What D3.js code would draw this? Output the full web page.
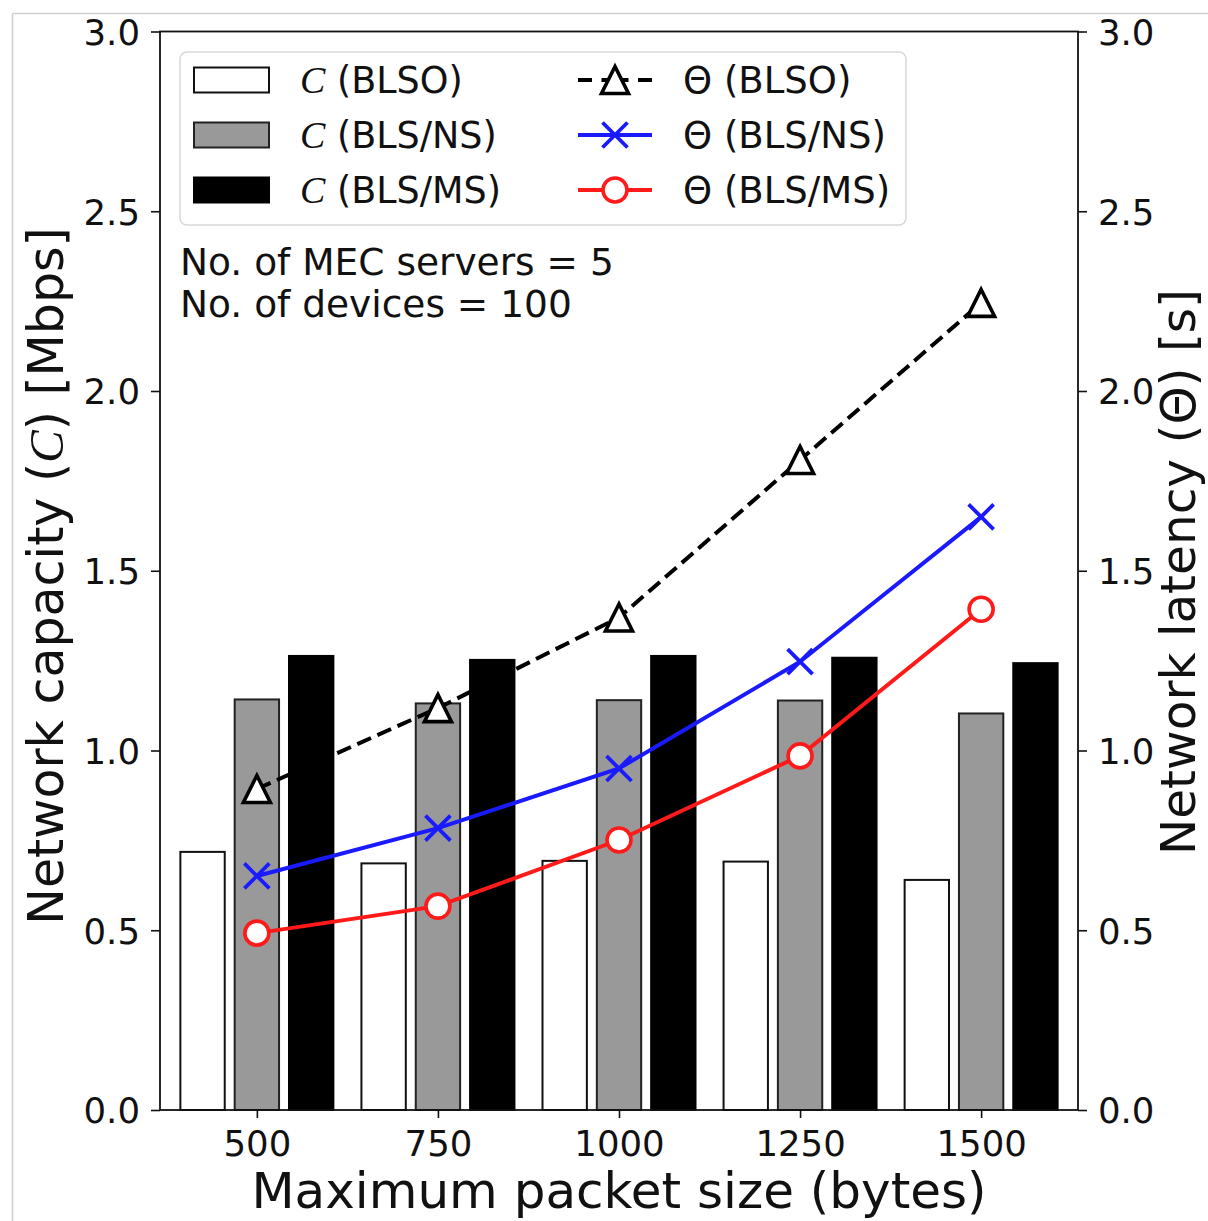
<!DOCTYPE html>
<html>
<head>
<meta charset="utf-8">
<script src="https://cdn.jsdelivr.net/npm/d3@7"></script>
<style>
  html, body { margin: 0; padding: 0; background: #ffffff; }
  svg { display: block; }
  text { font-family: "DejaVu Sans", sans-serif; fill: #111; }
</style>
</head>
<body>
<svg id="chart" width="1208" height="1221"></svg>
<script>
// Packet sizes on the x axis
const packetSizes = [500, 750, 1000, 1250, 1500];

// Network capacity C [Mbps] per scheme (bars, left axis)
const capBLSO  = [0.718, 0.686, 0.693, 0.691, 0.640];
const capBLSNS = [1.142, 1.131, 1.140, 1.139, 1.103];
const capBLSMS = [1.263, 1.252, 1.263, 1.258, 1.243];

// Network latency Θ [s] per scheme (lines, right axis)
const latBLSO  = [0.893, 1.118, 1.370, 1.808, 2.245];
const latBLSNS = [0.651, 0.784, 0.950, 1.247, 1.650];
const latBLSMS = [0.492, 0.567, 0.751, 0.985, 1.393];

// Shared tick values for both y axes
const yTicks = [0, 0.5, 1.0, 1.5, 2.0, 2.5, 3.0];

const barSeries = [
  { name: "(BLSO)",   values: capBLSO,  fill: "#ffffff", stroke: "#111", offset: -1 },
  { name: "(BLS/NS)", values: capBLSNS, fill: "#999999", stroke: "#222", offset: 0 },
  { name: "(BLS/MS)", values: capBLSMS, fill: "#000000", stroke: "#000", offset: 1 }
];
const lineSeries = [
  { name: "(BLSO)",   values: latBLSO,  color: "#000000", marker: "triangle", dash: "15,7" },
  { name: "(BLS/NS)", values: latBLSNS, color: "#1a1aff", marker: "cross",    dash: null },
  { name: "(BLS/MS)", values: latBLSMS, color: "#ff1a1a", marker: "circle",   dash: null }
];

const svg = d3.select("#chart");
const L = 160, R = 1078, T = 31.5, B = 1110;

// thin frame lines around the figure canvas
svg.append("line").attr("x1", 12.5).attr("x2", 1208).attr("y1", 13.5).attr("y2", 13.5)
  .attr("stroke", "#cfcfcf").attr("stroke-width", 1.5);
svg.append("line").attr("x1", 12.5).attr("x2", 12.5).attr("y1", 13.5).attr("y2", 1221)
  .attr("stroke", "#cfcfcf").attr("stroke-width", 1.5);

const x = d3.scalePoint().domain(packetSizes).range([L, R]).padding(0.535);
const step = x.step();
const yL = d3.scaleLinear().domain([0, 3]).range([B, T]);
const yR = d3.scaleLinear().domain([0, 3]).range([B, T]);

const barW = step * 0.245;
const barOff = step * 0.3;

// bars
barSeries.forEach(s => {
  svg.append("g").selectAll("rect").data(s.values).join("rect")
    .attr("x", (d, i) => x(packetSizes[i]) + s.offset * barOff - barW / 2)
    .attr("y", d => yL(d))
    .attr("width", barW)
    .attr("height", d => yL(0) - yL(d))
    .attr("fill", s.fill)
    .attr("stroke", s.stroke)
    .attr("stroke-width", 2);
});

// marker drawing helper
function drawMarker(g, type, color, cx, cy) {
  if (type === "triangle") {
    const h = 13.5;
    g.append("path")
      .attr("d", `M${cx},${cy - h}L${cx - h},${cy + h}L${cx + h},${cy + h}Z`)
      .attr("fill", "#fff").attr("stroke", color).attr("stroke-width", 3.6)
      .attr("stroke-linejoin", "miter");
  } else if (type === "cross") {
    const h = 12.5;
    g.append("path")
      .attr("d", `M${cx - h},${cy - h}L${cx + h},${cy + h}M${cx - h},${cy + h}L${cx + h},${cy - h}`)
      .attr("stroke", color).attr("stroke-width", 3.8).attr("fill", "none");
  } else {
    g.append("circle").attr("cx", cx).attr("cy", cy).attr("r", 12)
      .attr("fill", "#fff").attr("stroke", color).attr("stroke-width", 3.6);
  }
}

// latency lines
const line = d3.line().x((d, i) => x(packetSizes[i])).y(d => yR(d));
lineSeries.forEach(s => {
  const g = svg.append("g");
  g.append("path").datum(s.values)
    .attr("d", line)
    .attr("fill", "none")
    .attr("stroke", s.color)
    .attr("stroke-width", 4)
    .attr("stroke-dasharray", s.dash);
  s.values.forEach((v, i) => drawMarker(g, s.marker, s.color, x(packetSizes[i]), yR(v)));
});

// frame (spines)
svg.append("rect").attr("x", L).attr("y", T).attr("width", R - L).attr("height", B - T)
  .attr("fill", "none").attr("stroke", "#111").attr("stroke-width", 1.8);

// axes
const fmt = d3.format(".1f");
const axL = svg.append("g").attr("transform", `translate(${L},0)`)
  .call(d3.axisLeft(yL).tickValues(yTicks).tickFormat(fmt).tickSize(9).tickPadding(11).tickSizeOuter(0));
const axR = svg.append("g").attr("transform", `translate(${R},0)`)
  .call(d3.axisRight(yR).tickValues(yTicks).tickFormat(fmt).tickSize(9).tickPadding(11).tickSizeOuter(0));
const axB = svg.append("g").attr("transform", `translate(0,${B})`)
  .call(d3.axisBottom(x).tickSize(8).tickPadding(10).tickSizeOuter(0));
[axL, axR, axB].forEach(a => {
  a.select(".domain").remove();
  a.selectAll(".tick line").attr("stroke", "#111").attr("stroke-width", 1.6);
  a.selectAll(".tick text").attr("font-size", 35.5).attr("fill", "#111")
    .style("font-family", '"DejaVu Sans", sans-serif');
});
axL.selectAll(".tick text").attr("dy", "0.36em");
axR.selectAll(".tick text").attr("dy", "0.36em");
axB.selectAll(".tick text").attr("dy", "0.78em");

// axis titles
svg.append("text").attr("x", 619).attr("y", 1208)
  .attr("text-anchor", "middle").attr("font-size", 50)
  .text("Maximum packet size (bytes)");

const yt = svg.append("text")
  .attr("transform", `translate(63,576) rotate(-90)`)
  .attr("text-anchor", "middle").attr("font-size", 49);
yt.append("tspan").text("Network capacity (");
yt.append("tspan").style("font-family", '"Liberation Serif", serif').style("font-style", "italic").text("C");
yt.append("tspan").text(") [Mbps]");

svg.append("text")
  .attr("transform", `translate(1195,572) rotate(-90)`)
  .attr("text-anchor", "middle").attr("font-size", 48.5)
  .text("Network latency (Θ) [s]");

// legend
const lg = svg.append("g");
lg.append("rect").attr("x", 180).attr("y", 52).attr("width", 726).attr("height", 173)
  .attr("rx", 7).attr("fill", "#ffffff").attr("fill-opacity", 0.85)
  .attr("stroke", "#d8d8d8").attr("stroke-width", 1.5);
const rowY = [80, 135, 190];
barSeries.forEach((s, i) => {
  lg.append("rect").attr("x", 194).attr("y", rowY[i] - 12.5).attr("width", 75).attr("height", 25)
    .attr("fill", s.fill).attr("stroke", s.stroke).attr("stroke-width", 2);
  const t = lg.append("text").attr("x", 300).attr("y", rowY[i]).attr("dy", "0.36em").attr("font-size", 36.5);
  t.append("tspan").style("font-family", '"Liberation Serif", serif').style("font-style", "italic")
    .attr("font-size", 38).text("C");
  t.append("tspan").text(" " + s.name);
});
lineSeries.forEach((s, i) => {
  const cy = rowY[i];
  lg.append("line").attr("x1", 578).attr("x2", 652).attr("y1", cy).attr("y2", cy)
    .attr("stroke", s.color).attr("stroke-width", 4)
    .attr("stroke-dasharray", s.dash ? "14,9.5,27,9.5,14" : null);
  drawMarker(lg, s.marker, s.color, 615, cy);
  lg.append("text").attr("x", 683).attr("y", cy).attr("dy", "0.36em").attr("font-size", 37)
    .text("Θ " + s.name);
});

// annotation
svg.append("text").attr("x", 180).attr("y", 275).attr("font-size", 37.5).text("No. of MEC servers = 5");
svg.append("text").attr("x", 180).attr("y", 317).attr("font-size", 37.5).text("No. of devices = 100");
</script>
</body>
</html>
